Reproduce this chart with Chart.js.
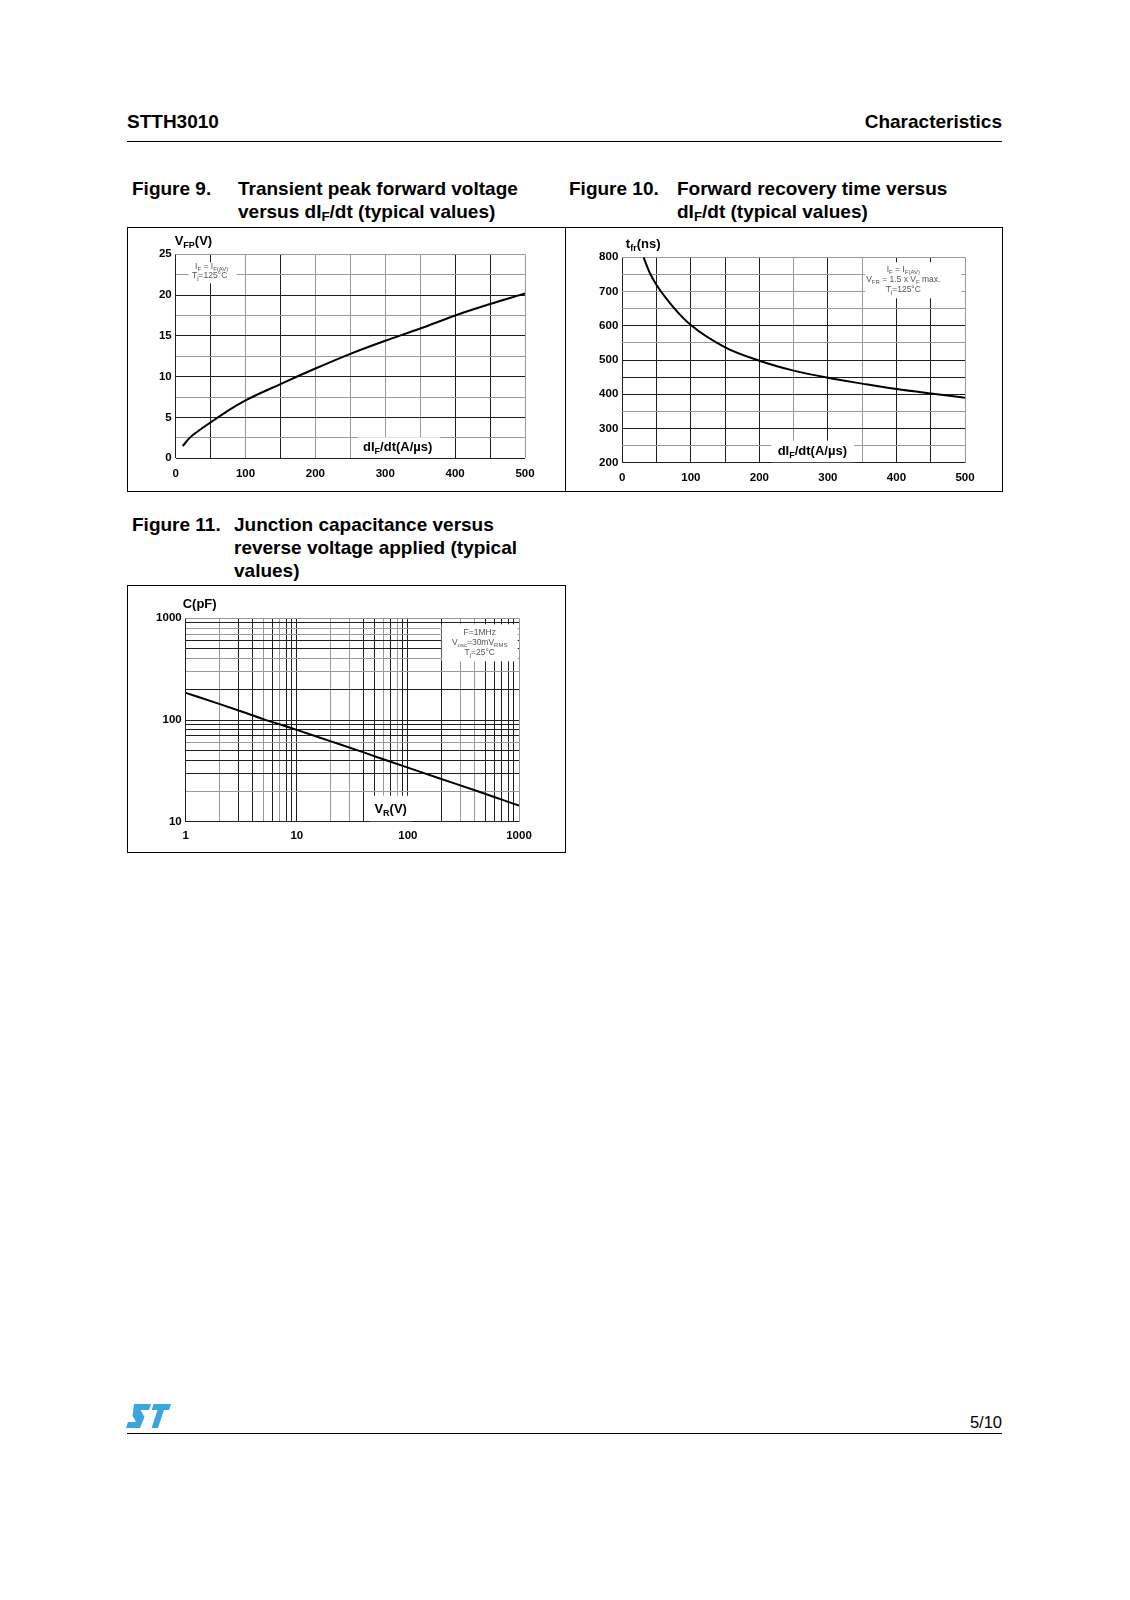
<!DOCTYPE html>
<html lang="en">
<head>
<meta charset="UTF-8">
<title>STTH3010 - Characteristics</title>
<script src="https://cdn.jsdelivr.net/npm/chart.js"></script>
<style>
  body { margin: 0; background: #fff; }
  .page { position: relative; width: 1130px; height: 1600px; font-family: "Liberation Sans", Arial, Helvetica, sans-serif; color: #000; }
  .abs { position: absolute; white-space: nowrap; }
  .hdr { font-size: 19px; line-height: 19px; font-weight: bold; }
  .rule { position: absolute; height: 1.3px; background: #000; }
  .ttl { font-size: 19px; line-height: 22.5px; font-weight: bold; }
  .ttl sub { font-size: 70%; vertical-align: -3px; line-height: 0; }
  .box { position: absolute; border: 1.5px solid #000; box-sizing: border-box; pointer-events: none; }
  canvas { position: absolute; }
</style>
</head>
<body>
<div class="page">
  <div class="abs hdr" style="left:127px; top:112px;">STTH3010</div>
  <div class="abs hdr" style="right:128px; top:112px;">Characteristics</div>
  <div class="rule" style="left:127px; top:140.5px; width:875px;"></div>

  <div class="abs ttl" style="left:132px; top:178px;">Figure 9.</div>
  <div class="abs ttl" style="left:238px; top:178px;">Transient peak forward voltage<br>versus dI<sub>F</sub>/dt (typical values)</div>
  <div class="abs ttl" style="left:569px; top:178px;">Figure 10.</div>
  <div class="abs ttl" style="left:677px; top:178px;">Forward recovery time versus<br>dI<sub>F</sub>/dt (typical values)</div>
  <div class="abs ttl" style="left:132px; top:513px; line-height:23px;">Figure 11.</div>
  <div class="abs ttl" style="left:234px; top:513px; line-height:23px;">Junction capacitance versus<br>reverse voltage applied (typical<br>values)</div>

  <canvas id="fig9" style="left:127px; top:227px;"></canvas>
  <canvas id="fig10" style="left:565px; top:227px;"></canvas>
  <canvas id="fig11" style="left:127px; top:585px;"></canvas>
  <div class="box" style="left:127px; top:226.5px; width:439px; height:265px;"></div>
  <div class="box" style="left:564.5px; top:226.5px; width:438px; height:265px;"></div>
  <div class="box" style="left:127px; top:584.5px; width:439px; height:268px;"></div>

  <!-- ST logo, simplified -->
  <svg class="abs" style="left:126px; top:1404px;" width="46" height="25" viewBox="0 0 46 25">
    <path d="M8 0 L25 0 L23 6 L14.5 6 L18.5 13 L14 24 L0 24 L2 18 L10 18 L6.5 11.5 Z" fill="#3aa6dd"/>
    <path d="M27.5 0 L45 0 L43 6 L38 6 L32 24 L25.5 24 L31.5 6 L25.8 6 Z" fill="#3aa6dd"/>
  </svg>
  <div class="abs" style="right:128px; top:1414px; font-size:16.5px; line-height:16px;">5/10</div>
  <div class="rule" style="left:127px; top:1433px; width:875px;"></div>
</div>

<script>
// ---- Figure 9 : VFP vs dIF/dt ----
const fig9DiDt = [10, 20, 30, 50, 75, 100, 150, 200, 250, 300, 350, 400, 450, 500];
const fig9Vfp = [1.5, 2.5, 3.2, 4.4, 5.85, 7.1, 9.1, 11.0, 12.8, 14.4, 15.9, 17.5, 18.9, 20.2];
const fig9XGrid = [0, 50, 100, 150, 200, 250, 300, 350, 400, 450, 500];
const fig9XTicks = [0, 100, 200, 300, 400, 500];
const fig9YGrid = [0, 2.5, 5, 7.5, 10, 12.5, 15, 17.5, 20, 22.5, 25];
const fig9YTicks = [0, 5, 10, 15, 20, 25];

// ---- Figure 10 : tfr vs dIF/dt ----
const fig10DiDt = [31, 40, 50, 75, 100, 150, 200, 250, 300, 350, 400, 450, 500];
const fig10Tfr = [800, 755, 719, 653, 602, 537, 498, 469, 448, 431, 415, 402, 390];
const fig10XGrid = [0, 50, 100, 150, 200, 250, 300, 350, 400, 450, 500];
const fig10XTicks = [0, 100, 200, 300, 400, 500];
const fig10YGrid = [200, 250, 300, 350, 400, 450, 500, 550, 600, 650, 700, 750, 800];
const fig10YTicks = [200, 300, 400, 500, 600, 700, 800];

// ---- Figure 11 : C vs VR (log-log) ----
const fig11Vr = [1, 2, 3, 5, 10, 20, 40, 70, 100, 200, 400, 700, 1000];
const fig11C = [185, 144, 124, 102, 80, 62, 48, 38.8, 34, 26.3, 20.4, 16.5, 14.4];
const fig11XGrid = [1, 2, 3, 4, 5, 6, 7, 8, 9, 10, 20, 30, 40, 50, 60, 70, 80, 90, 100, 200, 300, 400, 500, 600, 700, 800, 900, 1000];
const fig11XTicks = [1, 10, 100, 1000];
const fig11YGrid = [10, 20, 30, 40, 50, 60, 70, 80, 90, 100, 200, 300, 400, 500, 600, 700, 800, 900, 1000];
const fig11YTicks = [10, 100, 1000];

const DARK = '#1e1e1e';
const GRAY = '#999999';
const FONT = '"Liberation Sans", Arial, Helvetica, sans-serif';

// which grid lines are dark (the rest are gray)
const fig9XDark = [0, 50, 150, 400, 450];
const fig9YDark = [0, 5, 10, 15, 20];
const fig10XDark = [0, 50, 100, 150, 200, 300, 400, 450];
const fig10YDark = [200, 300, 400, 450, 500, 600];
const fig11XDark = [1, 3, 4, 6, 8, 9, 10, 40, 50, 70, 90, 100, 200, 500, 600, 700, 800, 900];
const fig11YDark = [10, 30, 40, 50, 70, 80, 90, 100, 200, 500, 600, 900];

// text with subscripts: parts = [[text, isSub], ...]
function drawRich(ctx, parts, x, y, size, weight, color, align) {
  const fontFor = sub => `${weight} ${sub ? Math.round(size * 0.72) : size}px ${FONT}`;
  let w = 0;
  parts.forEach(p => { ctx.font = fontFor(p[1]); w += ctx.measureText(p[0]).width; });
  let cx = align === 'center' ? x - w / 2 : x;
  ctx.fillStyle = color;
  ctx.textAlign = 'left';
  ctx.textBaseline = 'alphabetic';
  parts.forEach(p => {
    ctx.font = fontFor(p[1]);
    ctx.fillText(p[0], cx, p[1] ? y + size * 0.22 : y);
    cx += ctx.measureText(p[0]).width;
  });
}

function whiteRect(ctx, x, y, w, h) {
  ctx.fillStyle = '#fff';
  ctx.fillRect(x, y, w, h);
}

function makeScale(type, min, max, grid, labels, dark, fixedSize, axis, pad) {
  return {
    type: type, min: min, max: max,
    afterBuildTicks: s => { s.ticks = grid.map(v => ({ value: v })); },
    afterFit: s => { if (axis === 'x') s.height = fixedSize; else s.width = fixedSize; },
    border: { display: false },
    grid: {
      drawTicks: false,
      color: c => dark.includes(c.tick.value) ? DARK : GRAY,
      lineWidth: 1
    },
    ticks: {
      autoSkip: false, maxRotation: 0, padding: pad,
      color: '#000', font: { family: FONT, size: 11.5, weight: 'bold' },
      callback: v => labels.includes(v) ? String(v) : ''
    }
  };
}

function makeChart(id, w, h, pad, xs, ys, xData, yData, overlay) {
  const cv = document.getElementById(id);
  cv.width = w; cv.height = h;
  cv.style.width = w + 'px'; cv.style.height = h + 'px';
  return new Chart(cv, {
    type: 'line',
    data: {
      datasets: [{
        data: xData.map((x, i) => ({ x: x, y: yData[i] })),
        borderColor: '#000', borderWidth: 2, pointRadius: 0,
        cubicInterpolationMode: 'monotone', fill: false
      }]
    },
    options: {
      responsive: false, animation: false,
      layout: { padding: pad },
      plugins: { legend: { display: false }, tooltip: { enabled: false } },
      scales: { x: xs, y: ys }
    },
    plugins: [{ id: 'overlay', afterDraw: c => overlay(c.ctx, c.chartArea) }]
  });
}

// Figure 9
makeChart('fig9', 439, 265, { left: 8.7, right: 41, top: 27.3, bottom: 9.7 },
  makeScale('linear', 0, 500, fig9XGrid, fig9XTicks, fig9XDark, 24, 'x', 9),
  makeScale('linear', 0, 25, fig9YGrid, fig9YTicks, fig9YDark, 40, 'y', 4),
  fig9DiDt, fig9Vfp,
  (ctx, a) => {
    drawRich(ctx, [['V', 0], ['FP', 1], ['(V)', 0]], a.left - 1, a.top - 9, 13, 'bold', '#000', 'left');
    whiteRect(ctx, a.left + 182, a.bottom - 21, 82, 20.5);
    drawRich(ctx, [['dI', 0], ['F', 1], ['/dt(A/\u00b5s)', 0]], a.left + 222, a.bottom - 7, 13, 'bold', '#000', 'center');
    whiteRect(ctx, a.left + 13, a.top + 8, 48, 21);
    drawRich(ctx, [['I', 0], ['F', 1], [' = I', 0], ['F(AV)', 1]], a.left + 36, a.top + 15, 8.5, 'normal', '#555', 'center');
    drawRich(ctx, [['T', 0], ['j', 1], ['=125\u00b0C', 0]], a.left + 34, a.top + 24, 8.5, 'normal', '#555', 'center');
  });

// Figure 10
makeChart('fig10', 438, 265, { left: 17.3, right: 38, top: 30.3, bottom: 7.3 },
  makeScale('linear', 0, 500, fig10XGrid, fig10XTicks, fig10XDark, 22, 'x', 8),
  makeScale('linear', 200, 800, fig10YGrid, fig10YTicks, fig10YDark, 40, 'y', 4),
  fig10DiDt, fig10Tfr,
  (ctx, a) => {
    drawRich(ctx, [['t', 0], ['fr', 1], ['(ns)', 0]], a.left + 3.5, a.top - 9, 13, 'bold', '#000', 'left');
    whiteRect(ctx, a.left + 149, a.bottom - 22, 83, 21.5);
    drawRich(ctx, [['dI', 0], ['F', 1], ['/dt(A/\u00b5s)', 0]], a.left + 190, a.bottom - 8, 13, 'bold', '#000', 'center');
    whiteRect(ctx, a.left + 243, a.top + 5, 96, 36);
    drawRich(ctx, [['I', 0], ['F', 1], [' = I', 0], ['F(AV)', 1]], a.left + 281, a.top + 15, 8.5, 'normal', '#555', 'center');
    drawRich(ctx, [['V', 0], ['FR', 1], [' = 1.5 x V', 0], ['F', 1], [' max.', 0]], a.left + 281, a.top + 25, 8.5, 'normal', '#555', 'center');
    drawRich(ctx, [['T', 0], ['j', 1], ['=125\u00b0C', 0]], a.left + 281, a.top + 35, 8.5, 'normal', '#555', 'center');
  });

// Figure 11
makeChart('fig11', 439, 268, { left: 18.7, right: 47, top: 33.3, bottom: 9.3 },
  makeScale('logarithmic', 1, 1000, fig11XGrid, fig11XTicks, fig11XDark, 22, 'x', 7),
  makeScale('logarithmic', 10, 1000, fig11YGrid, fig11YTicks, fig11YDark, 40, 'y', 4),
  fig11Vr, fig11C,
  (ctx, a) => {
    drawRich(ctx, [['C(pF)', 0]], a.left - 3, a.top - 10, 13, 'bold', '#000', 'left');
    whiteRect(ctx, a.left + 184, a.bottom - 26, 42, 25.5);
    drawRich(ctx, [['V', 0], ['R', 1], ['(V)', 0]], a.left + 205, a.bottom - 9, 13, 'bold', '#000', 'center');
    whiteRect(ctx, a.left + 256, a.top + 6, 76, 37);
    drawRich(ctx, [['F=1MHz', 0]], a.left + 294, a.top + 17, 8.5, 'normal', '#555', 'center');
    drawRich(ctx, [['V', 0], ['osc', 1], ['=30mV', 0], ['RMS', 1]], a.left + 294, a.top + 27, 8.5, 'normal', '#555', 'center');
    drawRich(ctx, [['T', 0], ['j', 1], ['=25\u00b0C', 0]], a.left + 294, a.top + 37, 8.5, 'normal', '#555', 'center');
  });
</script>
</body>
</html>
